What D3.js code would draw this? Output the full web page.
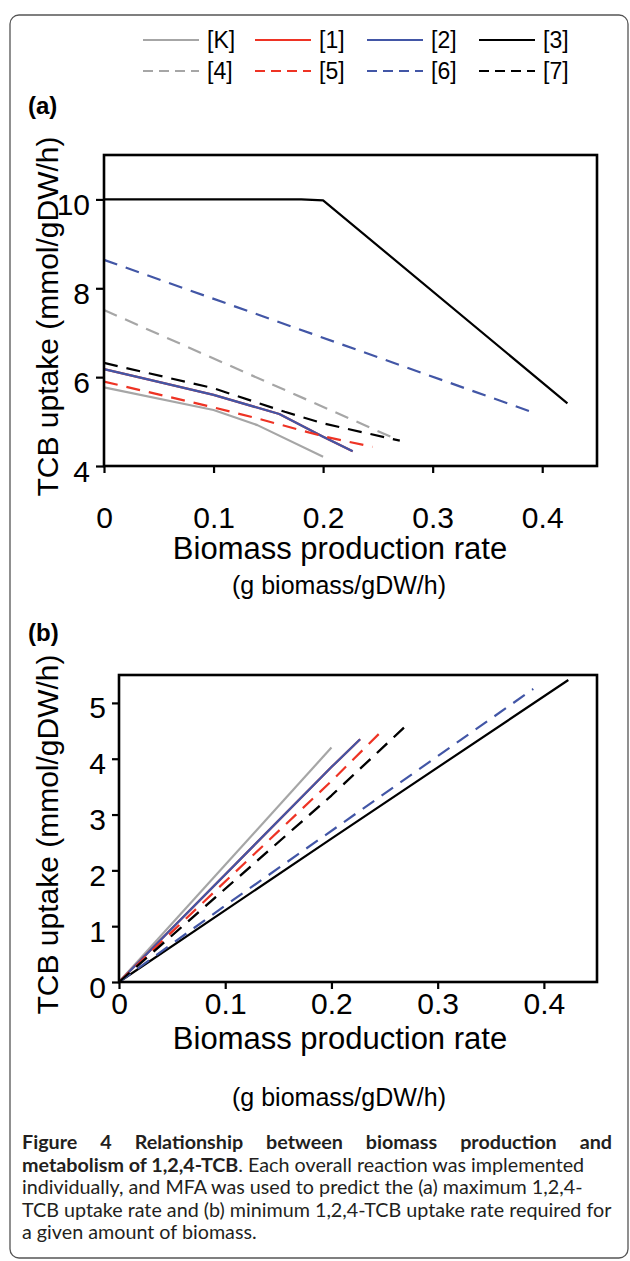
<!DOCTYPE html>
<html>
<head>
<meta charset="utf-8">
<script src="https://cdnjs.cloudflare.com/ajax/libs/d3/7.8.5/d3.min.js"></script>
<style>
  body { margin: 0; background: #fff; }
  svg { display: block; }
</style>
</head>
<body>
<svg id="fig" width="630" height="1261"></svg>
<script>
// legend / series names, drawing order = this order
const seriesNames = ["[K]", "[1]", "[2]", "[3]", "[4]", "[5]", "[6]", "[7]"];

// (a) maximum 1,2,4-TCB uptake vs biomass production rate
const maxK = [[0, 5.77], [0.1, 5.26], [0.14, 4.92], [0.2, 4.21]];
const max1 = [[0, 6.18], [0.042, 5.94], [0.1, 5.6], [0.16, 5.17], [0.2, 4.66], [0.227, 4.33]];
const max2 = [[0, 6.18], [0.042, 5.94], [0.1, 5.6], [0.16, 5.17], [0.2, 4.66], [0.227, 4.33]];
const max3 = [[0, 10.0], [0.18, 10.0], [0.2, 9.98], [0.423, 5.41]];
const max4 = [[0, 7.51], [0.268, 4.59]];
const max5 = [[0, 5.9], [0.1, 5.32], [0.14, 5.07], [0.2, 4.67], [0.245, 4.43]];
const max6 = [[0, 8.64], [0.39, 5.22]];
const max7 = [[0, 6.32], [0.1, 5.75], [0.165, 5.22], [0.2, 4.96], [0.27, 4.57]];

// (b) minimum 1,2,4-TCB uptake vs biomass production rate
const minK = [[0, 0], [0.2, 4.2]];
const min1 = [[0, 0], [0.2, 3.85], [0.227, 4.35]];
const min2 = [[0, 0], [0.2, 3.85], [0.227, 4.35]];
const min3 = [[0, 0], [0.2, 2.57], [0.423, 5.41]];
const min4 = [[0, 0], [0.2, 3.34], [0.268, 4.55]];
const min5 = [[0, 0], [0.2, 3.6], [0.245, 4.45]];
const min6 = [[0, 0], [0.1, 1.37], [0.39, 5.25]];
const min7 = [[0, 0], [0.2, 3.34], [0.269, 4.57]];

const xTicks = [0, 0.1, 0.2, 0.3, 0.4];
const yTicksA = [4, 6, 8, 10];
const yTicksB = [0, 1, 2, 3, 4, 5];

const captionLines = [
  [["Figure 4 Relationship between biomass production and", true]],
  [["metabolism of 1,2,4-TCB", true], [". Each overall reaction was implemented", false]],
  [["individually, and MFA was used to predict the (a) maximum 1,2,4-", false]],
  [["TCB uptake rate and (b) minimum 1,2,4-TCB uptake rate required for", false]],
  [["a given amount of biomass.", false]]
];

// styles
const color = d3.scaleOrdinal()
  .domain(seriesNames)
  .range(["#a6a6a6", "#ee3324", "#4256a6", "#000000", "#a6a6a6", "#ee3324", "#4256a6", "#000000"]);
const isDashed = n => ["[4]", "[5]", "[6]", "[7]"].includes(n);

const FONT = "'Liberation Sans', Arial, sans-serif";
const svg = d3.select("#fig");

// outer rounded frame
svg.append("rect")
  .attr("x", 10).attr("y", 15)
  .attr("width", 618).attr("height", 1243)
  .attr("rx", 9)
  .attr("fill", "none")
  .attr("stroke", "#555")
  .attr("stroke-width", 1.3);

// legend
const legend = svg.append("g").attr("font-family", FONT).attr("font-size", 23);
seriesNames.forEach((n, i) => {
  const col = i % 4, row = Math.floor(i / 4);
  const lx = 143 + col * 112, ly = 40 + row * 31;
  legend.append("line")
    .attr("x1", lx).attr("x2", lx + 56)
    .attr("y1", ly).attr("y2", ly)
    .attr("stroke", color(n))
    .attr("stroke-width", 2.2)
    .attr("stroke-dasharray", isDashed(n) ? "10,6" : null);
  legend.append("text")
    .attr("x", lx + 64).attr("y", ly + 8)
    .text(n);
});

function drawPanel(opt) {
  const g = svg.append("g");
  const x = d3.scaleLinear().domain([0, 0.45]).range([opt.left, opt.right]);
  const y = d3.scaleLinear().domain(opt.yDomain).range([opt.bottom, opt.top]);

  // panel letter
  g.append("text")
    .attr("x", 28).attr("y", opt.letterY)
    .attr("font-family", FONT).attr("font-size", 24).attr("font-weight", "bold")
    .text(opt.letter);

  const xAxis = g.append("g")
    .attr("transform", `translate(0,${opt.bottom})`)
    .call(d3.axisBottom(x).tickValues(xTicks)
      .tickFormat(d => d === 0 ? "0" : d3.format(".1f")(d))
      .tickSize(7).tickPadding(opt.xPad));
  const yAxis = g.append("g")
    .attr("transform", `translate(${opt.left},0)`)
    .call(d3.axisLeft(y).tickValues(opt.yTicks).tickFormat(d3.format("d"))
      .tickSize(opt.yTickSize).tickPadding(6));

  [xAxis, yAxis].forEach(a => {
    a.select(".domain").remove();
    a.selectAll(".tick line").attr("stroke", "#000").attr("stroke-width", 2.2);
    a.selectAll(".tick text")
      .attr("font-family", FONT).attr("font-size", 30).attr("fill", "#000");
  });
  yAxis.selectAll(".tick text").attr("dy", "0.5em");

  // series
  const line = d3.line().x(d => x(d[0])).y(d => y(d[1]));
  opt.series.forEach((pts, i) => {
    const n = seriesNames[i];
    g.append("path")
      .datum(pts)
      .attr("d", line)
      .attr("fill", "none")
      .attr("stroke", color(n))
      .attr("stroke-width", 2.2)
      .attr("stroke-linejoin", "round")
      .attr("stroke-dasharray", isDashed(n) ? "14,9" : null);
  });

  // frame
  g.append("rect")
    .attr("x", opt.left).attr("y", opt.top)
    .attr("width", opt.right - opt.left).attr("height", opt.bottom - opt.top)
    .attr("fill", "none").attr("stroke", "#000").attr("stroke-width", 2.6);

  // axis titles
  g.append("text")
    .attr("transform", `translate(47,${(opt.top + opt.bottom) / 2 + 6}) rotate(-90)`)
    .attr("text-anchor", "middle")
    .attr("dy", "0.35em")
    .attr("font-family", FONT).attr("font-size", 30)
    .text("TCB uptake (mmol/gDW/h)");
  g.append("text")
    .attr("x", 340).attr("y", opt.titleY)
    .attr("text-anchor", "middle")
    .attr("font-family", FONT).attr("font-size", 31)
    .text("Biomass production rate");
  g.append("text")
    .attr("x", 339).attr("y", opt.subY)
    .attr("text-anchor", "middle")
    .attr("font-family", FONT).attr("font-size", 25)
    .text("(g biomass/gDW/h)");
}

drawPanel({
  letter: "(a)", letterY: 114,
  left: 104, right: 597, top: 155, bottom: 466,
  yDomain: [4, 11], yTicks: yTicksA, yTickSize: 8,
  xPad: 34, titleY: 559, subY: 594,
  series: [maxK, max1, max2, max3, max4, max5, max6, max7]
});

drawPanel({
  letter: "(b)", letterY: 641,
  left: 119, right: 597, top: 675, bottom: 982,
  yDomain: [0, 5.5], yTicks: yTicksB, yTickSize: 7,
  xPad: 4, titleY: 1049, subY: 1106,
  series: [minK, min1, min2, min3, min4, min5, min6, min7]
});

// caption
const CAP_FONT = "Lato, 'Noto Sans', sans-serif";
const capLeft = 22, capRight = 612;
const probe = svg.append("text").attr("font-family", CAP_FONT).attr("font-size", 20)
  .text(captionLines[3][0][0]);
const capSize = 20 * (capRight - capLeft) / probe.node().getComputedTextLength();
probe.remove();

const cap = svg.append("g").attr("font-family", CAP_FONT).attr("font-size", capSize).attr("fill", "#231f20");
captionLines.forEach((parts, i) => {
  const t = cap.append("text").attr("x", capLeft).attr("y", 1149 + i * 22.5);
  parts.forEach(([s, b]) => {
    t.append("tspan").attr("font-weight", b ? "bold" : null).text(s);
  });
  if (i === 0) {
    const w = t.node().getComputedTextLength();
    const spaces = parts[0][0].split(" ").length - 1;
    t.attr("word-spacing", (capRight - capLeft - w) / spaces);
  }
});
</script>
</body>
</html>
